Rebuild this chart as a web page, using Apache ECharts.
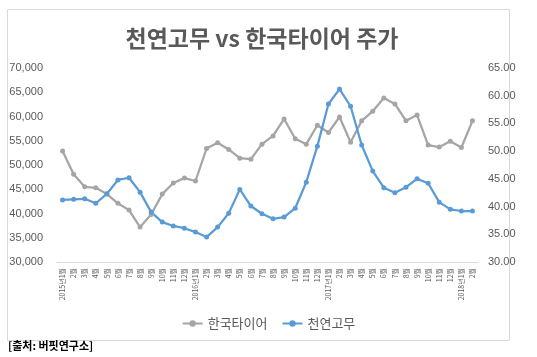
<!DOCTYPE html>
<html><head><meta charset="utf-8">
<script src="https://cdn.jsdelivr.net/npm/echarts@6/dist/echarts.min.js"></script>
<style>html,body{margin:0;padding:0;background:#fff}#c{width:537px;height:357px}</style>
</head><body><div id="c"></div>
<script>
var categories = ["2015년1월","2월","3월","4월","5월","6월","7월","8월","9월","10월","11월","12월",
"2016년1월","2월","3월","4월","5월","6월","7월","8월","9월","10월","11월","12월",
"2017년1월","2월","3월","4월","5월","6월","7월","8월","9월","10월","11월","12월",
"2018년1월","2월"];
var hankookTire = [52900,48100,45500,45300,44000,42100,40700,37200,39800,44000,46300,47300,
46700,53400,54600,53200,51400,51200,54300,56000,59500,55400,54300,58200,
56700,59900,54700,59100,61100,63800,62600,59100,60300,54100,53700,54900,
53600,59100];
var naturalRubber = [41.2,41.3,41.4,40.6,42.3,44.8,45.2,42.6,39.0,37.2,36.5,36.1,
35.4,34.5,36.3,38.8,43.1,40.1,38.7,37.8,38.1,39.7,44.4,50.9,
58.5,61.2,58.1,51.1,46.4,43.4,42.5,43.5,45.0,44.2,40.8,39.5,
39.2,39.2];
var leftTicks = {min:30000,max:70000,interval:5000};
var rightTicks = {min:30,max:65,interval:5};

var chart = echarts.init(document.getElementById('c'), null, {renderer:'canvas'});
var font = '"Noto Sans CJK KR","Noto Sans",sans-serif';
chart.setOption({
  animation:false,
  backgroundColor:'#fff',
  title:{text:'천연고무 vs 한국타이어 주가',left:257,textAlign:'center',top:22,
    textStyle:{fontFamily:font,fontSize:23,fontWeight:'bold',color:'#595959'}},
  legend:{bottom:22,left:'center',itemWidth:20,itemHeight:8,itemGap:14,
    textStyle:{fontFamily:font,fontSize:13,color:'#595959'},
    data:['한국타이어','천연고무']},
  grid:{left:57,right:59,top:68,bottom:95,containLabel:false},
  xAxis:{type:'category',data:categories,boundaryGap:true,
    axisLine:{lineStyle:{color:'#d9d9d9'}},axisTick:{show:false},
    axisLabel:{rotate:90,interval:0,fontSize:7,color:'#595959',fontFamily:font,margin:6}},
  yAxis:[
    {type:'value',min:leftTicks.min,max:leftTicks.max,interval:leftTicks.interval,
      splitLine:{show:false},axisLine:{show:false},axisTick:{show:false},
      axisLabel:{color:'#595959',fontSize:11,fontFamily:'"Liberation Sans",sans-serif',margin:14,
        formatter:function(v){return v.toLocaleString('en-US');}}},
    {type:'value',min:rightTicks.min,max:rightTicks.max,interval:rightTicks.interval,
      splitLine:{show:false},axisLine:{show:false},axisTick:{show:false},
      axisLabel:{color:'#595959',fontSize:11,fontFamily:'"Liberation Sans",sans-serif',margin:10,
        formatter:function(v){return v.toFixed(2);}}}
  ],
  series:[
    {name:'한국타이어',type:'line',yAxisIndex:0,data:hankookTire,color:'#A5A5A5',
      symbol:'circle',symbolSize:5,lineStyle:{width:2.25,color:'#A5A5A5'},itemStyle:{color:'#A5A5A5'}},
    {name:'천연고무',type:'line',yAxisIndex:1,data:naturalRubber,color:'#5B9BD5',
      symbol:'circle',symbolSize:5,lineStyle:{width:2.25,color:'#5B9BD5'},itemStyle:{color:'#5B9BD5'}}
  ],
  graphic:[
    {type:'rect',shape:{x:7.5,y:9.5,width:502,height:331},style:{fill:'none',stroke:'#d9d9d9',lineWidth:1},silent:true},
    {type:'text',left:8,top:340,style:{text:'[출처: 버핏연구소]',font:'bold 11px "Noto Sans CJK KR",sans-serif',fill:'#000'}}
  ]
});
</script></body></html>
